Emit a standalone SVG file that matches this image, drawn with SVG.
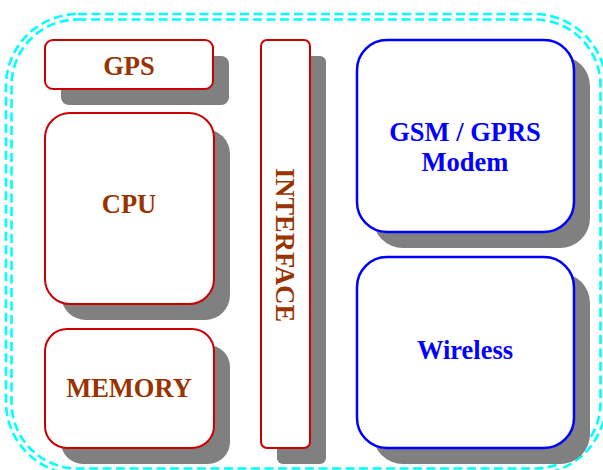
<svg xmlns="http://www.w3.org/2000/svg" width="603" height="470" viewBox="0 0 603 470">
<style>
.border{fill:none;stroke:#00FFFF;stroke-width:2.6;stroke-dasharray:9 4.5}
.shadow{fill:#808080}
.red{fill:#FFFFFF;stroke:#CC0000;stroke-width:2}
.blue{fill:#FFFFFF;stroke:#0000FF;stroke-width:2.5}
.tr{font-family:"Liberation Serif","Times New Roman",serif;font-weight:bold;font-size:26.5px;fill:#993300;text-anchor:middle}
.tb{font-family:"Liberation Serif","Times New Roman",serif;font-weight:bold;font-size:26.5px;fill:#0000FF;text-anchor:middle}
</style>
<rect width="603" height="470" fill="#FFFFFF"/>
<g id="border">
<rect class="border" x="6" y="14" width="600" height="460" rx="72"/>
<rect class="border" x="11.5" y="19.5" width="589" height="449" rx="66"/>
</g>
<g id="gps">
<rect class="shadow" x="61" y="56" width="168" height="49" rx="8"/>
<rect class="red" x="45" y="40" width="168" height="49" rx="8"/>
<text class="tr" x="129" y="75">GPS</text>
</g>
<g id="cpu">
<rect class="shadow" x="61" y="129" width="169" height="191" rx="25"/>
<rect class="red" x="45" y="113" width="169" height="191" rx="25"/>
<text class="tr" x="129" y="213">CPU</text>
</g>
<g id="memory">
<rect class="shadow" x="61" y="345" width="169" height="119" rx="22"/>
<rect class="red" x="45" y="329" width="169" height="119" rx="22"/>
<text class="tr" x="129" y="397">MEMORY</text>
</g>
<g id="interface">
<rect class="shadow" x="277" y="56" width="49" height="408" rx="6"/>
<rect class="red" x="261" y="40" width="49" height="408" rx="6"/>
<text class="tr" transform="translate(276,245) rotate(90)" x="0" y="0">INTERFACE</text>
</g>
<g id="gsm">
<rect class="shadow" x="373" y="56" width="217" height="192" rx="30"/>
<rect class="blue" x="357" y="40" width="217" height="192" rx="30"/>
<text class="tb" x="465" y="141">GSM / GPRS</text>
<text class="tb" x="465" y="171">Modem</text>
</g>
<g id="wireless">
<rect class="shadow" x="373" y="273" width="217" height="191" rx="30"/>
<rect class="blue" x="357" y="257" width="217" height="191" rx="30"/>
<text class="tb" x="465" y="359">Wireless</text>
</g>
<g id="connectors"/>
</svg>
